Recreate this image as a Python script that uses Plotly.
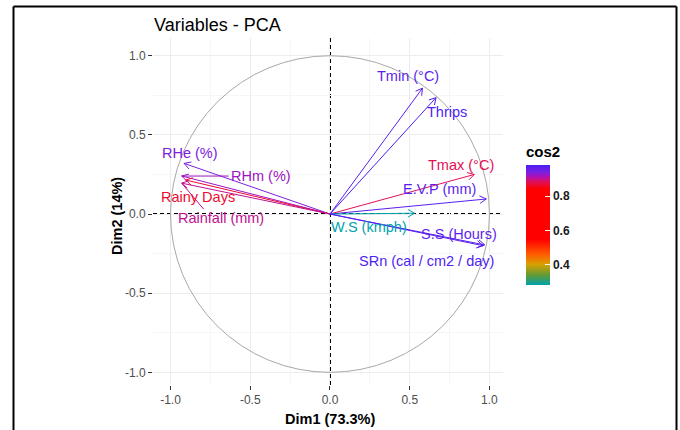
import math
import plotly.graph_objects as go
from plotly.colors import sample_colorscale

# Correlation circle: coordinates of each variable on the first two PCA dimensions
variables = ["Tmin (°C)", "Thrips", "Tmax (°C)", "E.V.P (mm)", "W.S (kmph)",
             "S.S (Hours)", "SRn (cal / cm2 / day)", "RHe (%)", "RHm (%)",
             "Rainy Days", "Rainfall (mm)"]
dim1 = [0.58, 0.665, 0.905, 0.98, 0.53, 0.96, 0.97, -0.915, -0.93, -0.905, -0.93]
dim2 = [0.795, 0.735, 0.25, 0.095, 0.005, -0.20, -0.195, 0.32, 0.24, 0.215, 0.195]
dim1_label = "Dim1 (73.3%)"
dim2_label = "Dim2 (14%)"
axis_ticks = [-1.0, -0.5, 0.0, 0.5, 1.0]
cos2_ticks = [0.4, 0.6, 0.8]

# quality of representation on the plane
cos2 = [a * a + b * b for a, b in zip(dim1, dim2)]

# label placement (pixel offsets of text centre from the arrow tip) and repel leader ends
label_offset = {
    "Tmin (°C)": (-14.5, -12), "Thrips": (11, 14.5), "Tmax (°C)": (-13.5, -9.5),
    "E.V.P (mm)": (-47, -10), "W.S (kmph)": (-46, 14), "S.S (Hours)": (-24, -12),
    "SRn (cal / cm2 / day)": (-58, 16), "RHe (%)": (6, -10.5), "RHm (%)": (79, 0),
    "Rainy Days": (12, 17), "Rainfall (mm)": (39, 35),
}
leader_end = {"RHm (%)": (47, 0), "Rainfall (mm)": (22, 26)}

FONT = "Liberation Sans, Arial, sans-serif"
W, H = 680, 430
M = dict(l=153, r=177, t=38, b=45)
XR = [-1.110, 1.085]
YR = [-1.080, 1.112]
PW = W - M["l"] - M["r"]
PH = H - M["t"] - M["b"]
SX = PW / (XR[1] - XR[0])
SY = PH / (YR[1] - YR[0])

colorscale = [
    [0.00, "#00A3AE"], [0.08, "#5E9A38"], [0.17, "#D6A200"], [0.25, "#FF6000"],
    [0.38, "#FF0000"], [0.80, "#FF0000"], [0.86, "#E0105A"], [0.90, "#B010B0"],
    [0.94, "#7A20E0"], [1.00, "#4B1EF5"],
]
cmin, cmax = min(cos2), max(cos2)
colors = sample_colorscale(colorscale, [(c - cmin) / (cmax - cmin) for c in cos2])


def paper_x(px):
    return (px - M["l"]) / PW


def paper_y(py):
    return (H - M["b"] - py) / PH


fig = go.Figure()

# arrows with open heads (30 degrees, ~7.5 px long)
head_len = 7.5
for name, x, y, col in zip(variables, dim1, dim2, colors):
    ang = math.atan2(y * SY, x * SX)
    hx, hy = [], []
    for s in (1, -1):
        a = ang + math.pi - s * math.radians(30)
        hx.append(x + head_len * math.cos(a) / SX)
        hy.append(y + head_len * math.sin(a) / SY)
    fig.add_trace(go.Scatter(
        x=[0, x, None, hx[0], x, hx[1]],
        y=[0, y, None, hy[0], y, hy[1]],
        mode="lines", line=dict(color=col, width=1),
        hoverinfo="skip", showlegend=False))
    if name in leader_end:
        ex, ey = leader_end[name]
        fig.add_trace(go.Scatter(
            x=[x, x + ex / SX], y=[y, y - ey / SY], mode="lines",
            line=dict(color=col, width=1), hoverinfo="skip", showlegend=False))
    dx, dy = label_offset[name]
    fig.add_annotation(x=x, y=y, text=name, showarrow=False,
                       xshift=dx, yshift=-dy, xanchor="center", yanchor="middle",
                       font=dict(family=FONT, size=14.5, color=col))

# colour bar for cos2
fig.add_trace(go.Scatter(
    x=dim1, y=dim2, mode="markers", hoverinfo="skip", showlegend=False,
    marker=dict(size=0, opacity=0, color=cos2, colorscale=colorscale,
                cmin=cmin, cmax=cmax, showscale=True,
                colorbar=dict(
                    title=dict(text="<b>cos2</b>", side="top",
                               font=dict(family=FONT, size=15, color="black")),
                    thickness=24, thicknessmode="pixels",
                    len=142, lenmode="pixels",
                    x=paper_x(526), xanchor="left", xpad=0,
                    y=paper_y(285), yanchor="bottom", ypad=0,
                    outlinewidth=0, tickvals=cos2_ticks,
                    ticktext=[f"{v:.1f}" for v in cos2_ticks],
                    ticks="inside", ticklen=5, tickcolor="white", tickwidth=1,
                    tickfont=dict(family=FONT, size=12, color="#1A1A1A", weight="bold")))))

# unit circle and dashed reference axes
fig.add_shape(type="circle", x0=-1, y0=-1, x1=1, y1=1, xref="x", yref="y",
              line=dict(color="#A8A8A8", width=1), layer="between")
fig.add_shape(type="line", x0=0, x1=0, y0=0, y1=1, xref="x", yref="paper",
              line=dict(color="black", width=2, dash="4px,3px"), layer="between")
fig.add_shape(type="line", x0=0, x1=1, y0=0, y1=0, xref="paper", yref="y",
              line=dict(color="black", width=2, dash="4px,3px"), layer="between")

# outer frame
frame = dict(color="black", width=2)
fig.add_shape(type="line", xref="paper", yref="paper", x0=paper_x(13.5), x1=paper_x(13.5),
              y0=paper_y(430), y1=paper_y(6.5), line=frame)
fig.add_shape(type="line", xref="paper", yref="paper", x0=paper_x(13.5), x1=paper_x(676.5),
              y0=paper_y(6.5), y1=paper_y(6.5), line=frame)
fig.add_shape(type="line", xref="paper", yref="paper", x0=paper_x(676.5), x1=paper_x(676.5),
              y0=paper_y(430), y1=paper_y(6.5), line=frame)

axis_common = dict(
    tickvals=axis_ticks, ticktext=[f"{v:.1f}" for v in axis_ticks],
    showgrid=True, gridcolor="#EDEDED", gridwidth=1, zeroline=False,
    minor=dict(showgrid=True, gridcolor="#F6F6F6", gridwidth=1, tick0=0, dtick=0.25),
    ticks="outside", ticklen=4, tickwidth=1, tickcolor="#333333",
    tickfont=dict(family=FONT, size=12, color="#4D4D4D"),
    showline=False, fixedrange=True, automargin=False,
)
fig.update_xaxes(range=XR, **axis_common)
fig.update_yaxes(range=YR, **axis_common)

# axis titles
title_font = dict(family=FONT, size=14.5, color="black")
fig.add_annotation(text=f"<b>{dim1_label}</b>", xref="paper", yref="paper",
                   x=paper_x(329.5), y=paper_y(419), xanchor="center", yanchor="middle",
                   showarrow=False, font=title_font)
fig.add_annotation(text=f"<b>{dim2_label}</b>", xref="paper", yref="paper",
                   x=paper_x(117), y=paper_y(216), xanchor="center", yanchor="middle",
                   textangle=-90, showarrow=False, font=title_font)

fig.update_layout(
    width=W, height=H, margin=dict(**M, pad=0, autoexpand=False),
    paper_bgcolor="white", plot_bgcolor="white",
    title=dict(text="Variables - PCA", x=paper_x(154), xref="paper", xanchor="left",
               y=1 - 25 / H, yref="container", yanchor="middle",
               font=dict(family=FONT, size=18, color="black")),
    hovermode=False,
)

fig.write_html("out.html")
